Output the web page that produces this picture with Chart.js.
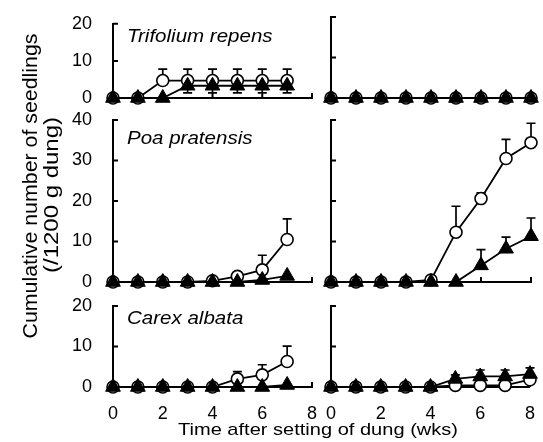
<!DOCTYPE html>
<html>
<head>
<meta charset="utf-8">
<script src="https://cdn.jsdelivr.net/npm/chart.js@4.4.1/dist/chart.umd.min.js"></script>
<style>
  body { margin: 0; background: #fff; }
  #wrap { position: relative; width: 543px; height: 442px; }
  #wrap canvas { position: absolute; left: 0; top: 0; }
</style>
</head>
<body>
<div id="wrap">
  <canvas id="p1" width="543" height="442"></canvas>
  <canvas id="p2" width="543" height="442"></canvas>
  <canvas id="p3" width="543" height="442"></canvas>
  <canvas id="p4" width="543" height="442"></canvas>
  <canvas id="p5" width="543" height="442"></canvas>
  <canvas id="p6" width="543" height="442"></canvas>
</div>
<script>
// ---- data ----
var weeksLeft  = [0, 1, 2, 3, 4, 5, 6, 7];
var weeksRight = [0, 1, 2, 3, 4, 5, 6, 7, 8];
var species = ['Trifolium repens', 'Poa pratensis', 'Carex albata'];
var yMax = [20, 40, 20];
var xTitle = 'Time after setting of dung (wks)';
var yTitle = ['Cumulative number of seedlings', '(/1200 g dung)'];

// Trifolium repens
var triLeftOpen     = [0, 0, 4.7, 4.7, 4.7, 4.7, 4.7, 4.7];
var triLeftOpenErr  = [0, 0, 3.1, 3.1, 3.1, 3.1, 3.1, 3.1];
var triLeftFill     = [0, 0, 0, 3.3, 3.3, 3.3, 3.3, 3.3];
var triLeftFillErr  = [0, 0, 0, 1.9, 1.9, 1.9, 1.9, 1.9];
var triRightOpen    = [0, 0, 0, 0, 0, 0, 0, 0, 0];
var triRightFill    = [0, 0, 0, 0, 0, 0, 0, 0, 0];

// Poa pratensis
var poaLeftOpen     = [0, 0, 0, 0, 0.3, 1.4, 3.0, 10.5];
var poaLeftOpenErr  = [0, 0, 0, 0, 0, 0, 3.6, 5.1];
var poaLeftFill     = [0, 0, 0, 0, 0, 0, 0.5, 1.5];
var poaRightOpen    = [0, 0, 0, 0, 0.5, 12.3, 20.6, 30.5, 34.4];
var poaRightOpenErr = [0, 0, 0, 0, 0, 6.4, 1.4, 4.7, 4.8];
var poaRightFill    = [0, 0, 0, 0, 0, 0, 4.1, 8.2, 11.3];
var poaRightFillErr = [0, 0, 0, 0, 0, 0, 3.9, 2.9, 4.5];

// Carex albata
var carLeftOpen     = [0, 0, 0, 0, 0, 2.0, 3.0, 6.3];
var carLeftOpenErr  = [0, 0, 0, 0, 0, 1.8, 2.5, 3.8];
var carLeftFill     = [0, 0, 0, 0, 0, 0, 0, 0.5];
var carRightOpen    = [0, 0, 0, 0, 0, 0.4, 0.4, 0.4, 1.8];
var carRightFill    = [0, 0, 0, 0, 0, 2.0, 2.6, 2.6, 3.2];
var carRightFillErr = [0, 0, 0, 0, 0, 1.0, 1.6, 1.6, 1.5];

// ---- layout ----
var W = 543, H = 442;
var ROWS = [{top: 17, bottom: 98}, {top: 120, bottom: 282}, {top: 306, bottom: 387}];
var COLS = [{left: 113, right: 312}, {left: 331, right: 531}];
var FONT = 'Liberation Sans';

// inward tick marks
var innerTicks = {
  id: 'innerTicks',
  beforeDatasetsDraw: function(chart) {
    var ctx = chart.ctx, a = chart.chartArea, xs = chart.scales.x, ys = chart.scales.y;
    ctx.save();
    ctx.strokeStyle = '#000';
    ctx.lineWidth = 2;
    ctx.beginPath();
    ys.ticks.forEach(function(t) {
      var p = ys.getPixelForValue(t.value);
      ctx.moveTo(a.left, p); ctx.lineTo(a.left + 5, p);
    });
    xs.ticks.forEach(function(t) {
      var p = xs.getPixelForValue(t.value);
      ctx.moveTo(p, a.bottom); ctx.lineTo(p, a.bottom - 5);
    });
    ctx.stroke();
    ctx.restore();
  }
};

// error bars (drawn under the markers)
var errorBars = {
  id: 'errorBars',
  beforeDatasetsDraw: function(chart) {
    var ctx = chart.ctx, ys = chart.scales.y;
    ctx.save();
    ctx.strokeStyle = '#000';
    ctx.lineWidth = 1.7;
    chart.data.datasets.forEach(function(ds, i) {
      var meta = chart.getDatasetMeta(i);
      meta.data.forEach(function(pt, j) {
        var v = ds.data[j].y;
        [[ds.errUp, 1], [ds.errDown, -1]].forEach(function(e) {
          if (!e[0] || !e[0][j]) return;
          var y = ys.getPixelForValue(v + e[1] * e[0][j]);
          ctx.beginPath();
          ctx.moveTo(pt.x, pt.y); ctx.lineTo(pt.x, y);
          ctx.moveTo(pt.x - 4.5, y); ctx.lineTo(pt.x + 4.5, y);
          ctx.stroke();
        });
      });
    });
    ctx.restore();
  }
};

// species name inside each left panel
var panelText = {
  id: 'panelText',
  afterDraw: function(chart, args, opts) {
    if (!opts.text) return;
    var ctx = chart.ctx, a = chart.chartArea;
    ctx.save();
    ctx.font = 'italic 18px "' + FONT + '"';
    ctx.fillStyle = '#000';
    ctx.textBaseline = 'alphabetic';
    ctx.translate(a.left + 14, a.top + opts.dy);
    ctx.scale(1.14, 1);
    ctx.fillText(opts.text, 0, 0);
    ctx.restore();
  }
};

// axis titles shared by the whole figure
var figureText = {
  id: 'figureText',
  afterDraw: function(chart, args, opts) {
    if (!opts.show) return;
    var ctx = chart.ctx;
    function stretched(text, cx, cy, size, len, rot) {
      ctx.save();
      ctx.font = size + 'px "' + FONT + '"';
      ctx.fillStyle = '#000';
      ctx.textAlign = 'center';
      ctx.textBaseline = 'middle';
      ctx.translate(cx, cy);
      ctx.rotate(rot);
      ctx.scale(len / ctx.measureText(text).width, 1);
      ctx.fillText(text, 0, 0);
      ctx.restore();
    }
    stretched(xTitle, 318, 430, 17, 280, 0);
    stretched(yTitle[0], 31, 186, 20, 305, -Math.PI / 2);
    stretched(yTitle[1], 52, 195, 20, 156, -Math.PI / 2);
  }
};

function series(weeks, vals) {
  return vals.map(function(v, i) { return {x: weeks[i], y: v}; });
}

function makePanel(id, row, col, weeks, fill, fillErrUp, fillErrDown, open, openErr, extra) {
  var r = ROWS[row], c = COLS[col];
  var yW = col === 0 ? 50 : 10;
  var xH = row === 2 ? 34 : 8;
  return new Chart(document.getElementById(id), {
    type: 'line',
    data: {
      datasets: [
        {
          data: series(weeks, fill),
          errUp: fillErrUp, errDown: fillErrDown,
          borderColor: '#000', borderWidth: 1.8,
          pointStyle: 'triangle', pointRadius: 8.5,
          pointBackgroundColor: '#000', pointBorderColor: '#000', pointBorderWidth: 1,
          clip: false, tension: 0
        },
        {
          data: series(weeks, open),
          errUp: openErr,
          borderColor: '#000', borderWidth: 1.8,
          pointStyle: 'circle', pointRadius: 6,
          pointBackgroundColor: '#fff', pointBorderColor: '#000', pointBorderWidth: 1.6,
          clip: false, tension: 0
        }
      ]
    },
    options: {
      responsive: false,
      animation: false,
      events: [],
      layout: {
        padding: {left: c.left - yW, right: W - c.right, top: r.top, bottom: H - r.bottom - xH}
      },
      plugins: {
        legend: {display: false},
        tooltip: {enabled: false},
        panelText: {text: col === 0 ? species[row] : '', dy: [18, 24, 18][row]},
        figureText: {show: !!extra}
      },
      scales: {
        x: {
          type: 'linear', min: 0, max: 8,
          grid: {display: false},
          border: {display: true, color: '#000', width: 2},
          ticks: {
            display: row === 2, stepSize: 2, padding: 8, color: '#000',
            font: {family: FONT, size: 18}
          },
          afterFit: function(s) { s.height = xH; }
        },
        y: {
          min: 0, max: yMax[row],
          grid: {display: false},
          border: {display: true, color: '#000', width: 2},
          ticks: {
            display: col === 0, stepSize: 10, padding: 13, color: '#000',
            font: {family: FONT, size: 18}
          },
          afterFit: function(s) { s.width = yW; }
        }
      }
    },
    plugins: [innerTicks, errorBars, panelText, figureText]
  });
}

makePanel('p1', 0, 0, weeksLeft,  triLeftFill,  triLeftFillErr, triLeftFillErr, triLeftOpen,  triLeftOpenErr);
makePanel('p2', 0, 1, weeksRight, triRightFill, null, null, triRightOpen, null);
makePanel('p3', 1, 0, weeksLeft,  poaLeftFill,  null, null, poaLeftOpen,  poaLeftOpenErr);
makePanel('p4', 1, 1, weeksRight, poaRightFill, poaRightFillErr, null, poaRightOpen, poaRightOpenErr);
makePanel('p5', 2, 0, weeksLeft,  carLeftFill,  null, null, carLeftOpen,  carLeftOpenErr);
makePanel('p6', 2, 1, weeksRight, carRightFill, carRightFillErr, null, carRightOpen, null, true);
</script>
</body>
</html>
